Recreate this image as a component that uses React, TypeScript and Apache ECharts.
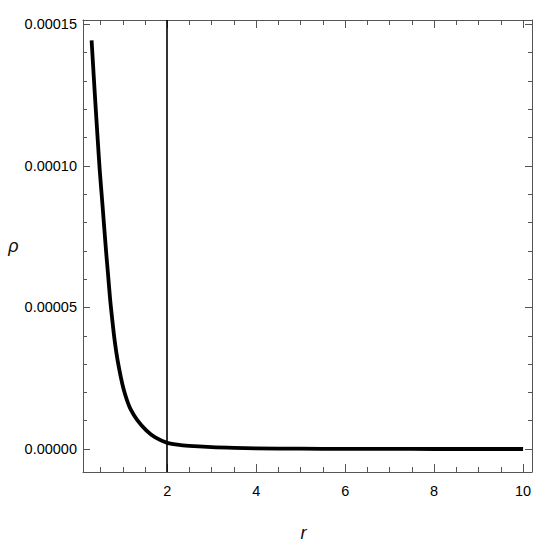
import React, { useEffect, useRef } from "react";
import * as echarts from "echarts";

const rValues = [0.299, 0.35, 0.395, 0.44, 0.482, 0.55, 0.622, 0.67, 0.715, 0.758, 0.816, 0.883, 0.955, 1.018, 1.094, 1.184, 1.326, 1.528, 1.73, 2.0, 2.3, 2.6, 3.0, 3.5, 4, 5, 6, 7, 8, 9, 10];
const rhoValues = [14.43e-5, 13.1e-5, 11.95e-5, 10.85e-5, 9.85e-5, 8.5e-5, 7.03e-5, 6.15e-5, 5.3e-5, 4.65e-5, 3.85e-5, 3.14e-5, 2.55e-5, 2.12e-5, 1.73e-5, 1.38e-5, 1.02e-5, 0.66e-5, 0.41e-5, 0.22e-5, 0.14e-5, 0.1e-5, 0.065e-5, 0.04e-5, 0.025e-5, 0.012e-5, 0.007e-5, 0.004e-5, 0.003e-5, 0.002e-5, 0.0015e-5];

const xMajorTicks = [2, 4, 6, 8, 10];
const xMinorTicks = [0.5, 1, 1.5, 2.5, 3, 3.5, 4.5, 5, 5.5, 6.5, 7, 7.5, 8.5, 9, 9.5];
const yMajorTicks = [0, 0.00005, 0.0001, 0.00015];
const yMinorTicks = [0.00001, 0.00002, 0.00003, 0.00004, 0.00006, 0.00007, 0.00008, 0.00009, 0.00011, 0.00012, 0.00013, 0.00014];
const markerR = 2;

const X_MIN = 0.106;
const X_MAX = 10.2;
const Y_MIN = -0.0000081;
const Y_MAX = 0.0001515;

const FONT = "'Liberation Sans', Arial, sans-serif";
const FRAME = "#555";

export default function App() {
  const ref = useRef<HTMLDivElement>(null);
  useEffect(() => {
    if (!ref.current) return;
    const chart = echarts.init(ref.current, undefined, { renderer: "svg" });
    const baseX = (position: string, ticks: number[], len: number, withLabels: boolean, line: boolean, extra: any = {}) => ({
      type: "value",
      position,
      min: X_MIN,
      max: X_MAX,
      axisLine: { show: line, onZero: false, lineStyle: { color: FRAME, width: 1 } },
      axisTick: { show: true, inside: true, length: len, customValues: ticks, lineStyle: { color: FRAME, width: 1 } },
      axisLabel: withLabels
        ? { show: true, customValues: ticks, fontSize: 14.5, fontFamily: FONT, color: "#000", margin: 11, formatter: (v: number) => String(v) }
        : { show: false },
      splitLine: { show: false },
      ...extra,
    });
    const baseY = (position: string, ticks: number[], len: number, withLabels: boolean, line: boolean, extra: any = {}) => ({
      type: "value",
      position,
      min: Y_MIN,
      max: Y_MAX,
      axisLine: { show: line, onZero: false, lineStyle: { color: FRAME, width: 1 } },
      axisTick: { show: true, inside: true, length: len, customValues: ticks, lineStyle: { color: FRAME, width: 1 } },
      axisLabel: withLabels
        ? { show: true, customValues: ticks, fontSize: 14.5, fontFamily: FONT, color: "#000", margin: 6, formatter: (v: number) => v.toFixed(5) }
        : { show: false },
      splitLine: { show: false },
      ...extra,
    });
    const nameStyle = { fontSize: 18, fontStyle: "italic", fontFamily: FONT, color: "#111" };
    chart.setOption({
      animation: false,
      backgroundColor: "#fff",
      grid: { left: 83, top: 20, right: 16, bottom: 78, containLabel: false },
      xAxis: [
        baseX("bottom", xMajorTicks, 8, true, true, {
          name: "r",
          nameLocation: "middle",
          nameGap: 52,
          nameTextStyle: { ...nameStyle, padding: [0, 8, 0, 0] },
        }),
        baseX("bottom", xMinorTicks, 5, false, false),
        baseX("top", xMajorTicks, 8, false, true),
        baseX("top", xMinorTicks, 5, false, false),
      ],
      yAxis: [
        baseY("left", yMajorTicks, 7, true, true, {
          name: "ρ",
          nameLocation: "middle",
          nameGap: 64,
          nameRotate: 0,
          nameTextStyle: { ...nameStyle, padding: [0, 0, 18, 0] },
        }),
        baseY("left", yMinorTicks, 4, false, false),
        baseY("right", yMajorTicks, 7, false, true),
        baseY("right", yMinorTicks, 4, false, false),
      ],
      series: [
        {
          type: "line",
          xAxisIndex: 0,
          yAxisIndex: 0,
          data: rValues.map((r, i) => [r, rhoValues[i]]),
          showSymbol: false,
          smooth: 0.3,
          lineStyle: { color: "#000", width: 3.8, join: "round", cap: "butt" },
          markLine: {
            silent: true,
            symbol: "none",
            label: { show: false },
            lineStyle: { color: "#000", width: 1.6, type: "solid" },
            data: [{ xAxis: markerR }],
          },
        },
      ],
    });
    return () => chart.dispose();
  }, []);
  return <div ref={ref} style={{ position: "absolute", left: 0, top: 0, width: 548, height: 550 }} />;
}
